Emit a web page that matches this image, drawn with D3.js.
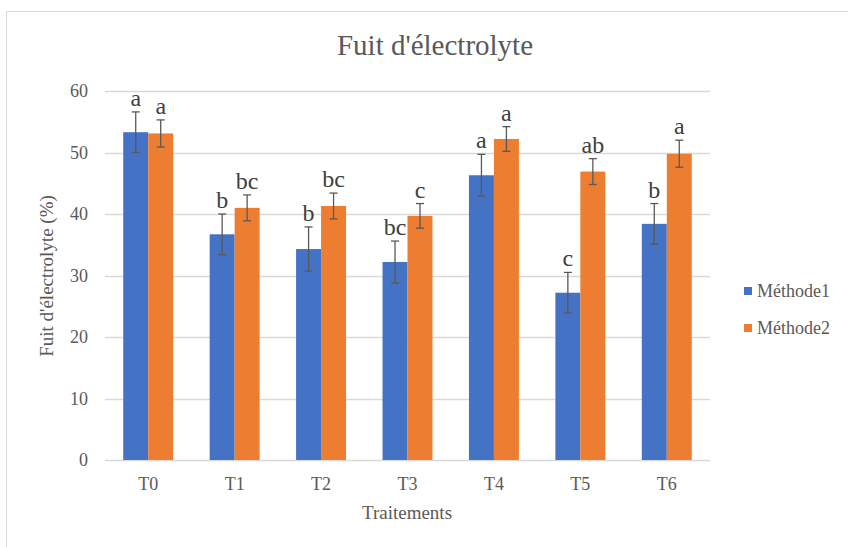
<!DOCTYPE html>
<html>
<head>
<meta charset="utf-8">
<script src="https://cdn.jsdelivr.net/npm/d3@7"></script>
<style>
  body { margin: 0; background: #fff; }
</style>
</head>
<body>
<div id="chart"></div>
<script>
const categories = ["T0", "T1", "T2", "T3", "T4", "T5", "T6"];
const seriesNames = ["Méthode1", "Méthode2"];
const methode1 = [53.3, 36.7, 34.3, 32.2, 46.3, 27.2, 38.4];
const methode2 = [53.1, 41.0, 41.3, 39.7, 52.2, 46.9, 49.8];
const err1 = [3.3, 3.3, 3.6, 3.4, 3.4, 3.3, 3.3];
const err2 = [2.2, 2.1, 2.1, 2.0, 2.0, 2.1, 2.2];
const letters1 = ["a", "b", "b", "bc", "a", "c", "b"];
const letters2 = ["a", "bc", "bc", "c", "a", "ab", "a"];
const yTicks = [0, 10, 20, 30, 40, 50, 60];

const width = 848, height = 547;
const colors = ["#4472C4", "#ED7D31"];
const serif = "'Liberation Serif', 'Times New Roman', 'DejaVu Serif', serif";

const data = categories.map((c, i) => ({
  cat: c,
  vals: [
    { s: 0, v: methode1[i], e: err1[i], l: letters1[i] },
    { s: 1, v: methode2[i], e: err2[i], l: letters2[i] }
  ]
}));

const svg = d3.select("#chart")
  .append("svg")
  .attr("width", width)
  .attr("height", height)
  .attr("font-family", serif);

// chart frame
svg.append("rect")
  .attr("x", 6.5).attr("y", 11.5)
  .attr("width", 900).attr("height", 600)
  .attr("fill", "#fff")
  .attr("stroke", "#d9d9d9");

const x0 = d3.scaleBand().domain(categories).range([105, 710]);
const x1 = d3.scaleBand().domain([0, 1]).range([0, x0.bandwidth()]).paddingOuter(0.73);
const y = d3.scaleLinear().domain([0, 60]).range([460, 91]);

// gridlines
svg.append("g")
  .selectAll("line")
  .data(yTicks)
  .join("line")
  .attr("x1", 105).attr("x2", 710)
  .attr("y1", d => Math.round(y(d)) + 0.5)
  .attr("y2", d => Math.round(y(d)) + 0.5)
  .attr("stroke", "#d9d9d9")
  .attr("stroke-width", 1.3);

// y tick labels
svg.append("g")
  .attr("font-size", 18)
  .attr("fill", "#595959")
  .attr("text-anchor", "end")
  .selectAll("text")
  .data(yTicks)
  .join("text")
  .attr("x", 88)
  .attr("y", d => y(d))
  .attr("dy", "0.35em")
  .text(d => d);

// bars
const groups = svg.append("g")
  .selectAll("g")
  .data(data)
  .join("g")
  .attr("transform", d => `translate(${x0(d.cat)},0)`);

groups.selectAll("rect")
  .data(d => d.vals)
  .join("rect")
  .attr("x", d => x1(d.s))
  .attr("width", x1.bandwidth())
  .attr("y", d => y(d.v))
  .attr("height", d => y(0) - y(d.v))
  .attr("fill", d => colors[d.s]);

// error bars
const eb = groups.selectAll("g.err")
  .data(d => d.vals)
  .join("g")
  .attr("class", "err")
  .attr("stroke", "#595959")
  .attr("stroke-width", 1.3);

eb.append("line")
  .attr("x1", d => x1(d.s) + x1.bandwidth() / 2)
  .attr("x2", d => x1(d.s) + x1.bandwidth() / 2)
  .attr("y1", d => y(d.v + d.e))
  .attr("y2", d => y(d.v - d.e));

eb.selectAll("line.cap")
  .data(d => [{ d, v: d.v + d.e }, { d, v: d.v - d.e }])
  .join("line")
  .attr("class", "cap")
  .attr("x1", o => x1(o.d.s) + x1.bandwidth() / 2 - 4)
  .attr("x2", o => x1(o.d.s) + x1.bandwidth() / 2 + 4)
  .attr("y1", o => y(o.v))
  .attr("y2", o => y(o.v));

// significance letters
groups.selectAll("text")
  .data(d => d.vals)
  .join("text")
  .attr("x", d => x1(d.s) + x1.bandwidth() / 2)
  .attr("y", d => y(d.v + d.e) - 6)
  .attr("text-anchor", "middle")
  .attr("font-size", 24)
  .attr("fill", "#404040")
  .text(d => d.l);

// x tick labels
svg.append("g")
  .attr("font-size", 18)
  .attr("fill", "#595959")
  .attr("text-anchor", "middle")
  .selectAll("text")
  .data(categories)
  .join("text")
  .attr("x", d => x0(d) + x0.bandwidth() / 2)
  .attr("y", 490)
  .text(d => d);

// titles
svg.append("text")
  .attr("x", 435).attr("y", 55)
  .attr("text-anchor", "middle")
  .attr("font-size", 29)
  .attr("fill", "#595959")
  .text("Fuit d'électrolyte");

svg.append("text")
  .attr("x", 407).attr("y", 519)
  .attr("text-anchor", "middle")
  .attr("font-size", 19)
  .attr("fill", "#595959")
  .text("Traitements");

svg.append("text")
  .attr("transform", "translate(53,276) rotate(-90)")
  .attr("text-anchor", "middle")
  .attr("font-size", 19)
  .attr("fill", "#595959")
  .text("Fuit d'électrolyte (%)");

// legend
const legend = svg.append("g")
  .selectAll("g")
  .data(seriesNames)
  .join("g")
  .attr("transform", (d, i) => `translate(744,${291 + i * 37})`);

legend.append("rect")
  .attr("x", 0).attr("y", -4)
  .attr("width", 8).attr("height", 8)
  .attr("fill", (d, i) => colors[i]);

legend.append("text")
  .attr("x", 13)
  .attr("dy", "0.35em")
  .attr("font-size", 18)
  .attr("fill", "#595959")
  .text(d => d);
</script>
</body>
</html>
